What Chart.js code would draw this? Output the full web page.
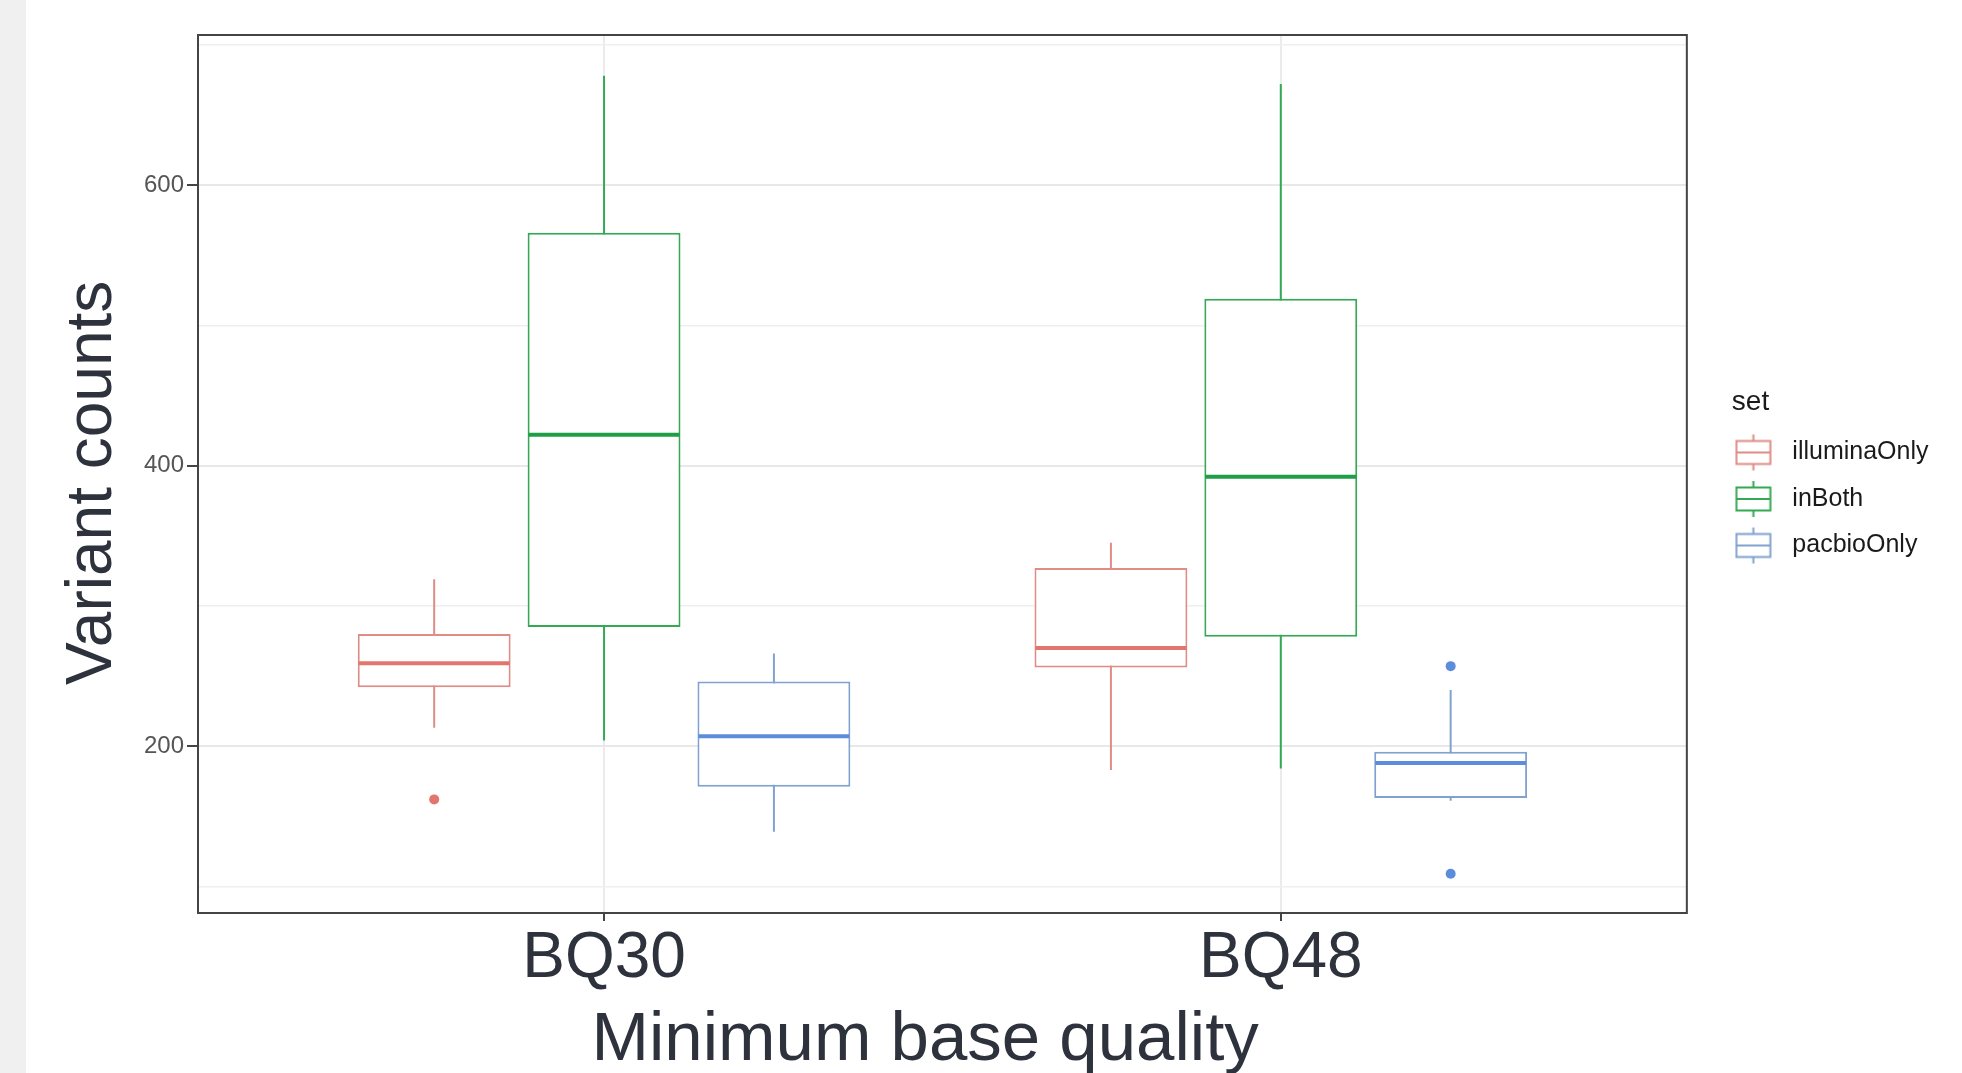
<!DOCTYPE html>
<html>
<head>
<meta charset="utf-8">
<title>Variant counts by minimum base quality</title>
<script src="https://cdn.jsdelivr.net/npm/chart.js"></script>
<style>
  html, body { margin: 0; padding: 0; }
  body {
    width: 1962px;
    height: 1073px;
    overflow: hidden;
    background: linear-gradient(to right, #f0f0f0 0, #f0f0f0 26px, #ffffff 26px);
  }
</style>
</head>
<body>
<canvas id="boxChart" width="1962" height="1073"></canvas>
<script>
const categories = ["BQ30", "BQ48"];
const setNames = ["illuminaOnly", "inBoth", "pacbioOnly"];

// box plot summaries, one value per category
const illuminaMin = [213, 183];
const illuminaQ1 = [242, 256];
const illuminaMedian = [259, 270];
const illuminaQ3 = [280, 327];
const illuminaMax = [319, 345];
const illuminaOutliers = [[162], []];

const inBothMin = [204, 184];
const inBothQ1 = [285, 278];
const inBothMedian = [422, 392];
const inBothQ3 = [566, 519];
const inBothMax = [678, 672];
const inBothOutliers = [[], []];

const pacbioMin = [139, 161];
const pacbioQ1 = [171, 163];
const pacbioMedian = [207, 188];
const pacbioQ3 = [246, 196];
const pacbioMax = [266, 240];
const pacbioOutliers = [[], [257, 109]];

const yTicks = [100, 200, 300, 400, 500, 600, 700];
const yLabelled = [200, 400, 600];

const FONT = '"Liberation Sans", Arial, sans-serif';
const DARK = "#2e323d";
Chart.defaults.font.family = FONT;

const sets = [
  { name: setNames[0], min: illuminaMin, q1: illuminaQ1, med: illuminaMedian, q3: illuminaQ3, max: illuminaMax, out: illuminaOutliers,
    line: "#de8c85", strong: "#e2766e" },
  { name: setNames[1], min: inBothMin, q1: inBothQ1, med: inBothMedian, q3: inBothQ3, max: inBothMax, out: inBothOutliers,
    line: "#34a853", strong: "#1f9e45" },
  { name: setNames[2], min: pacbioMin, q1: pacbioQ1, med: pacbioMedian, q3: pacbioQ3, max: pacbioMax, out: pacbioOutliers,
    line: "#80a2cf", strong: "#5b8ddc" },
];

// small boxplot key for the legend (blank margin on the right on purpose)
function boxGlyph(color) {
  const c = document.createElement("canvas");
  c.width = 64;
  c.height = 38;
  const g = c.getContext("2d");
  g.strokeStyle = color;
  g.lineWidth = 2;
  g.strokeRect(1.75, 7.5, 34, 23);
  g.beginPath();
  g.moveTo(1.75, 19); g.lineTo(35.75, 19);
  g.moveTo(18.75, 1); g.lineTo(18.75, 7.5);
  g.moveTo(18.75, 30.5); g.lineTo(18.75, 37);
  g.stroke();
  return c;
}
const glyphs = sets.map((s) => boxGlyph(s.line));

const boxDatasets = sets.map((s) => ({
  label: s.name,
  stack: s.name,
  data: categories.map((c, i) => ({ x: i + 1, y: [s.q1[i], s.q3[i]] })),
  backgroundColor: "#ffffff",
  borderColor: s.line,
  borderWidth: 2,
  borderSkipped: false,
  categoryPercentage: 0.753,
  barPercentage: 0.9,
}));

const whiskerDatasets = sets.map((s) => ({
  label: s.name + " whisker",
  stack: s.name,
  data: categories.map((c, i) => ({ x: i + 1, y: [s.min[i], s.max[i]] })),
  backgroundColor: s.line,
  borderWidth: 0,
  categoryPercentage: 0.753,
  barPercentage: 0.9,
  maxBarThickness: 2,
}));

// medians and outlier points, placed on the box bars through the y scale
const boxExtras = {
  id: "boxExtras",
  afterDatasetsDraw(chart) {
    const { ctx } = chart;
    const yScale = chart.scales.y;
    sets.forEach((s, k) => {
      const meta = chart.getDatasetMeta(k);
      meta.data.forEach((bar, i) => {
        const { x, width } = bar.getProps(["x", "width"], true);
        const ym = yScale.getPixelForValue(s.med[i]);
        ctx.save();
        ctx.strokeStyle = s.strong;
        ctx.lineWidth = 4;
        ctx.beginPath();
        ctx.moveTo(x - width / 2 + 1, ym);
        ctx.lineTo(x + width / 2 - 1, ym);
        ctx.stroke();
        ctx.fillStyle = s.strong;
        s.out[i].forEach((v) => {
          ctx.beginPath();
          ctx.arc(x, yScale.getPixelForValue(v), 5, 0, Math.PI * 2);
          ctx.fill();
        });
        ctx.restore();
      });
    });
  },
};

const panelFrame = {
  id: "panelFrame",
  afterDraw(chart) {
    const { ctx, chartArea: a } = chart;
    ctx.save();
    ctx.strokeStyle = "#444444";
    ctx.lineWidth = 2;
    ctx.strokeRect(a.left, a.top, a.right - a.left, a.bottom - a.top);
    ctx.restore();
  },
};

new Chart(document.getElementById("boxChart"), {
  type: "bar",
  data: {
    datasets: [...boxDatasets, ...whiskerDatasets],
  },
  options: {
    responsive: false,
    animation: false,
    devicePixelRatio: 1,
    layout: { padding: { top: 35, right: 23.5, bottom: 0, left: 0 } },
    plugins: {
      tooltip: { enabled: false },
      legend: {
        position: "right",
        align: "center",
        fullSize: false,
        title: {
          display: true,
          text: "set",
          position: "start",
          color: "#1a1a1a",
          font: { size: 28, lineHeight: 1 },
          padding: { top: 20, bottom: 2 },
        },
        labels: {
          usePointStyle: true,
          pointStyleWidth: 26.5,
          padding: 21.5,
          color: "#1a1a1a",
          font: { size: 25 },
          generateLabels: () =>
            sets.map((s, k) => ({
              text: s.name,
              pointStyle: glyphs[k],
              fillStyle: "rgba(0,0,0,0)",
              strokeStyle: s.line,
              lineWidth: 0,
              hidden: false,
              datasetIndex: k,
            })),
        },
      },
    },
    scales: {
      x: {
        type: "linear",
        min: 0.4,
        max: 2.6,
        bounds: "data",
        offset: false,
        afterBuildTicks: (s) => {
          s.ticks = categories.map((c, i) => ({ value: i + 1 }));
        },
        afterFit: (s) => {
          s.height = 160;
        },
        ticks: {
          callback: (v) => categories[v - 1] || "",
          color: DARK,
          font: { size: 64 },
          padding: 0,
          maxRotation: 0,
          autoSkip: false,
        },
        grid: {
          offset: false,
          color: "#ebebeb",
          lineWidth: 2,
          tickColor: "#444444",
          tickLength: 8,
          tickWidth: 2,
        },
        border: { display: false },
        title: {
          display: true,
          text: "Minimum base quality\u2002",
          color: DARK,
          font: { size: 69, lineHeight: 1 },
          padding: { top: 0, bottom: -2 },
        },
      },
      y: {
        min: 81,
        max: 707,
        bounds: "data",
        stacked: false,
        afterBuildTicks: (s) => {
          s.ticks = yTicks.map((v) => ({ value: v }));
        },
        afterFit: (s) => {
          s.width = 198;
        },
        ticks: {
          callback: (v) => (yLabelled.includes(v) ? String(v) : ""),
          color: "#555555",
          font: { size: 24 },
          padding: 3,
        },
        grid: {
          color: (c) => (c.tick && yLabelled.includes(c.tick.value) ? "#e8e8e8" : "#efefef"),
          lineWidth: (c) => (c.tick && yLabelled.includes(c.tick.value) ? 2 : 1.5),
          tickColor: (c) => (c.tick && yLabelled.includes(c.tick.value) ? "#444444" : "rgba(0,0,0,0)"),
          tickLength: 11,
          tickWidth: 2,
        },
        border: { display: false },
        title: {
          display: true,
          text: "Variant counts ",
          color: DARK,
          font: { size: 64, lineHeight: 1 },
          padding: { top: 61, bottom: 0 },
        },
      },
      // empty spacer between the panel and the legend
      yGap: {
        type: "linear",
        axis: "y",
        position: "right",
        display: true,
        grid: { display: false, drawTicks: false },
        border: { display: false },
        ticks: { display: false },
        afterFit: (s) => {
          s.width = 45;
        },
      },
    },
  },
  plugins: [boxExtras, panelFrame],
});
</script>
</body>
</html>
